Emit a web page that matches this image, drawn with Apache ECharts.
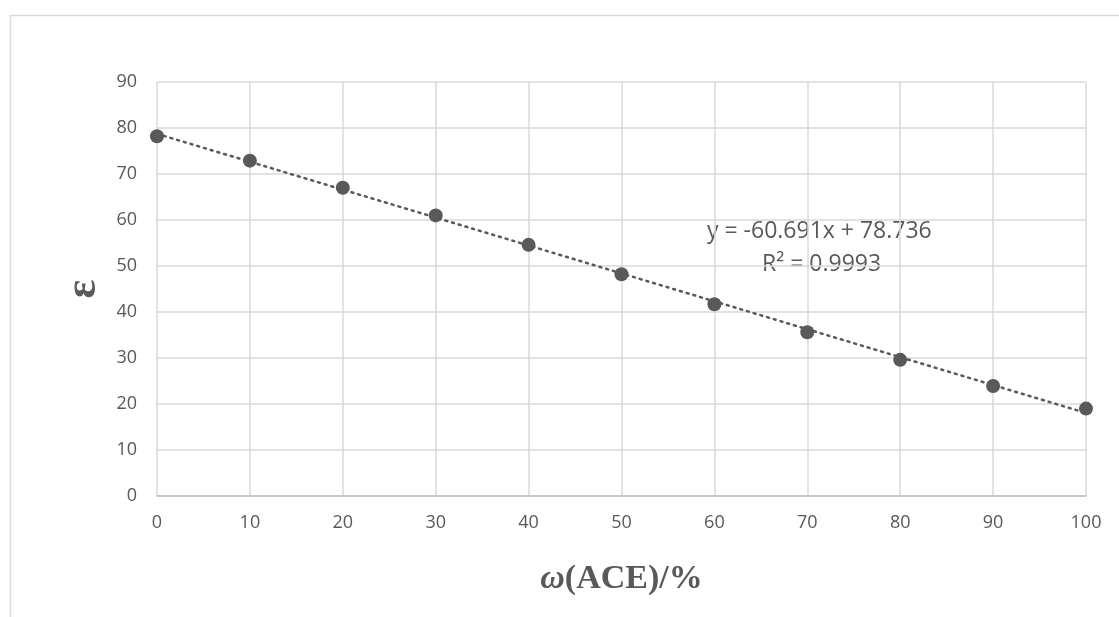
<!DOCTYPE html>
<html>
<head>
<meta charset="utf-8">
<script src="https://cdn.jsdelivr.net/npm/echarts@6/dist/echarts.min.js"></script>
<style>
  html, body { margin: 0; padding: 0; background: #fff; }
  #chart { width: 1119px; height: 617px; }
</style>
</head>
<body>
<div id="chart"></div>
<script>
// data
var omegaAce = [0, 10, 20, 30, 40, 50, 60, 70, 80, 90, 100];
var epsilon = [78.2, 72.9, 67.0, 61.0, 54.6, 48.2, 41.7, 35.6, 29.6, 23.9, 19.0];
// linear trendline end points (from the fitted equation shown)
var trendX = [0, 100];
var trendY = [78.736, 18.045];
var equationText = 'y = -60.691x + 78.736';
var r2Text = 'R² = 0.9993';

var myChart = echarts.init(document.getElementById('chart'));
var grey = '#595959';
var pts = omegaAce.map(function (x, i) { return [x, epsilon[i]]; });
var trend = trendX.map(function (x, i) { return [x, trendY[i]]; });

myChart.setOption({
    animation: false,
    backgroundColor: '#fff',
    grid: { left: 157, right: 33, top: 82, bottom: 121 },
    xAxis: {
        type: 'value', min: 0, max: 100, interval: 10,
        name: '{i|ω}{b|(ACE)/%}',
        nameLocation: 'middle', nameGap: 66,
        nameTextStyle: {
            rich: {
                i: { fontFamily: 'Liberation Serif', fontStyle: 'italic', fontWeight: 'bold', fontSize: 34, color: grey },
                b: { fontFamily: 'Liberation Serif', fontWeight: 'bold', fontSize: 34, color: grey }
            }
        },
        axisLine: { show: true, lineStyle: { color: '#bfbfbf', width: 1.5 } },
        axisTick: { show: false },
        axisLabel: { color: grey, fontSize: 18, fontFamily: 'Open Sans', margin: 18 },
        splitLine: { show: true, lineStyle: { color: '#d9d9d9', width: 1.5 } }
    },
    yAxis: {
        type: 'value', min: 0, max: 90, interval: 10,
        name: 'ε', nameLocation: 'middle', nameGap: 44, nameRotate: 90,
        nameTextStyle: { fontFamily: 'Liberation Serif', fontWeight: 'bold', fontSize: 44, color: grey },
        axisLine: { show: false },
        axisTick: { show: false },
        axisLabel: { color: grey, fontSize: 18, fontFamily: 'Open Sans', margin: 20 },
        splitLine: { show: true, lineStyle: { color: '#d9d9d9', width: 1.5 } }
    },
    graphic: [
        { type: 'rect', left: 8, top: 13, shape: { width: 1200, height: 700 }, silent: true,
          style: { fill: 'none', stroke: '#d9d9d9', lineWidth: 1.5 }, z: -1 },
        { type: 'text', left: 707, top: 220,
          style: { text: equationText, fill: grey, fontSize: 23, fontFamily: 'Open Sans' } },
        { type: 'text', left: 762, top: 253,
          style: { text: r2Text, fill: grey, fontSize: 23, fontFamily: 'Open Sans' } }
    ],
    series: [
        {
            type: 'line', data: trend, symbol: 'none', z: 1,
            lineStyle: { color: grey, width: 2.5, type: [2, 5], cap: 'round' }
        },
        {
            type: 'scatter', data: pts, symbol: 'circle', symbolSize: 14, z: 2,
            itemStyle: { color: grey, opacity: 1 }
        }
    ]
});
window.addEventListener('resize', function () {
    myChart.resize();
});
</script>
</body>
</html>
